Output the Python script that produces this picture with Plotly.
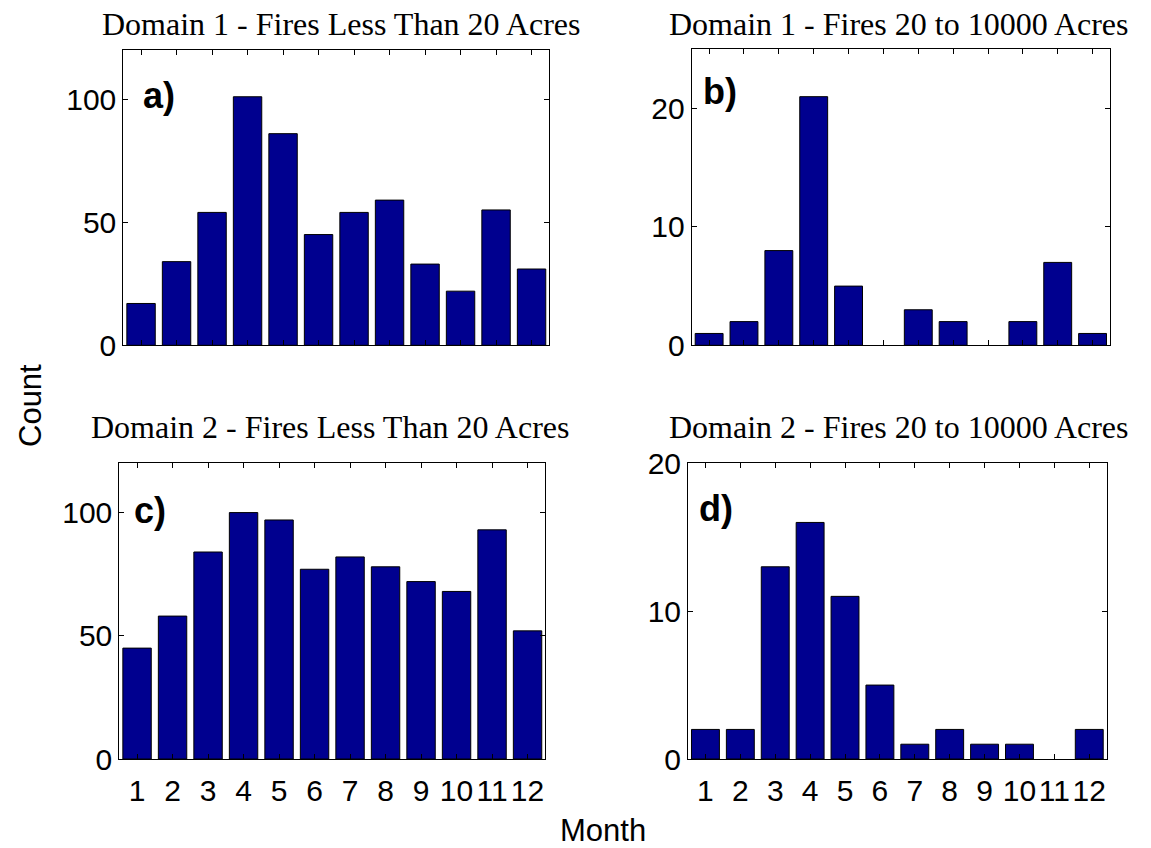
import plotly.graph_objects as go

# Monthly fire counts
months = list(range(1, 13))
month_labels = [str(m) for m in months]

d1_small = [17, 34, 54, 101, 86, 45, 54, 59, 33, 22, 55, 31]
d1_large = [1, 2, 8, 21, 5, 0, 3, 2, 0, 2, 7, 1]
d2_small = [45, 58, 84, 100, 97, 77, 82, 78, 72, 68, 93, 52]
d2_large = [2, 2, 13, 16, 11, 5, 1, 2, 1, 1, 0, 2]

titles = [
    "Domain 1 - Fires Less Than 20 Acres",
    "Domain 1 - Fires 20 to 10000 Acres",
    "Domain 2 - Fires Less Than 20 Acres",
    "Domain 2 - Fires 20 to 10000 Acres",
]
panel_tags = ["a)", "b)", "c)", "d)"]
y_ranges = [[0, 120], [0, 25], [0, 120], [0, 20]]
y_ticks = [[0, 50, 100], [0, 10, 20], [0, 50, 100], [0, 10, 20]]
series = [d1_small, d1_large, d2_small, d2_large]

W, H = 1151, 848
# axes boxes in pixels: (left, right, top, bottom)
boxes = [
    (123.3, 549.3, 50.0, 345.3),
    (691.7, 1110.0, 49.3, 345.3),
    (119.3, 545.3, 463.3, 759.0),
    (688.0, 1106.7, 463.3, 759.0),
]
title_pos = [(341, 24), (899, 24), (330, 427), (899, 427)]
tag_pos = [(141, 95), (701, 91), (132, 510), (697, 508)]

BAR = "#00008F"
TICK_FONT = dict(family="Liberation Sans, Arial, sans-serif", size=30, color="black")

fig = go.Figure()
annotations = []
for i, vals in enumerate(series):
    n = "" if i == 0 else str(i + 1)
    # empty months get no outline
    edge_w = [0 if v == 0 else 1 for v in vals]
    fig.add_trace(go.Bar(
        x=months, y=vals, width=0.8,
        marker=dict(color=BAR, line=dict(color="black", width=edge_w)),
        xaxis="x" + n, yaxis="y" + n, showlegend=False,
    ))
    l, r, t, b = boxes[i]
    bottom_row = i >= 2
    fig.layout["xaxis" + n] = dict(
        domain=[l / W, r / W], anchor="y" + n, range=[0.5, 12.5],
        tickmode="array", tickvals=months, ticktext=month_labels,
        showticklabels=bottom_row, ticks="inside", ticklen=5, tickwidth=1,
        tickcolor="black", showline=True, linecolor="black", linewidth=1,
        mirror="allticks", showgrid=False, zeroline=False, automargin=False,
        tickfont=TICK_FONT, ticklabelstandoff=5, fixedrange=True,
    )
    fig.layout["yaxis" + n] = dict(
        domain=[1 - b / H, 1 - t / H], anchor="x" + n, range=y_ranges[i],
        tickmode="array", tickvals=y_ticks[i],
        ticks="inside", ticklen=5, tickwidth=1, tickcolor="black",
        showline=True, linecolor="black", linewidth=1, mirror="allticks",
        showgrid=False, zeroline=False, automargin=False,
        tickfont=TICK_FONT, fixedrange=True,
    )
    tx, ty = title_pos[i]
    annotations.append(dict(
        text=titles[i], x=tx / W, y=1 - ty / H, xref="paper", yref="paper",
        xanchor="center", yanchor="middle", showarrow=False,
        font=dict(family="Liberation Serif, Times New Roman, serif", size=32, color="black"),
    ))
    px, py = tag_pos[i]
    annotations.append(dict(
        text="<b>" + panel_tags[i] + "</b>",
        x=(px - l) / (r - l), y=(b - py) / (b - t),
        xref="x" + n + " domain", yref="y" + n + " domain",
        xanchor="left", yanchor="middle", showarrow=False,
        font=dict(family="Liberation Sans, Arial, sans-serif", size=36, color="black"),
    ))

annotations.append(dict(
    text="Count", x=30 / W, y=1 - 405 / H, xref="paper", yref="paper",
    textangle=-90, showarrow=False, xanchor="center", yanchor="middle",
    font=dict(family="Liberation Sans, Arial, sans-serif", size=31, color="black"),
))
annotations.append(dict(
    text="Month", x=603 / W, y=1 - 830 / H, xref="paper", yref="paper",
    showarrow=False, xanchor="center", yanchor="middle",
    font=dict(family="Liberation Sans, Arial, sans-serif", size=31, color="black"),
))

fig.update_layout(
    template="none",
    width=W, height=H, margin=dict(l=0, r=0, t=0, b=0, autoexpand=False),
    paper_bgcolor="white", plot_bgcolor="white",
    annotations=annotations, bargap=0.2,
)

fig.write_html("out.html", config={"displayModeBar": False})
